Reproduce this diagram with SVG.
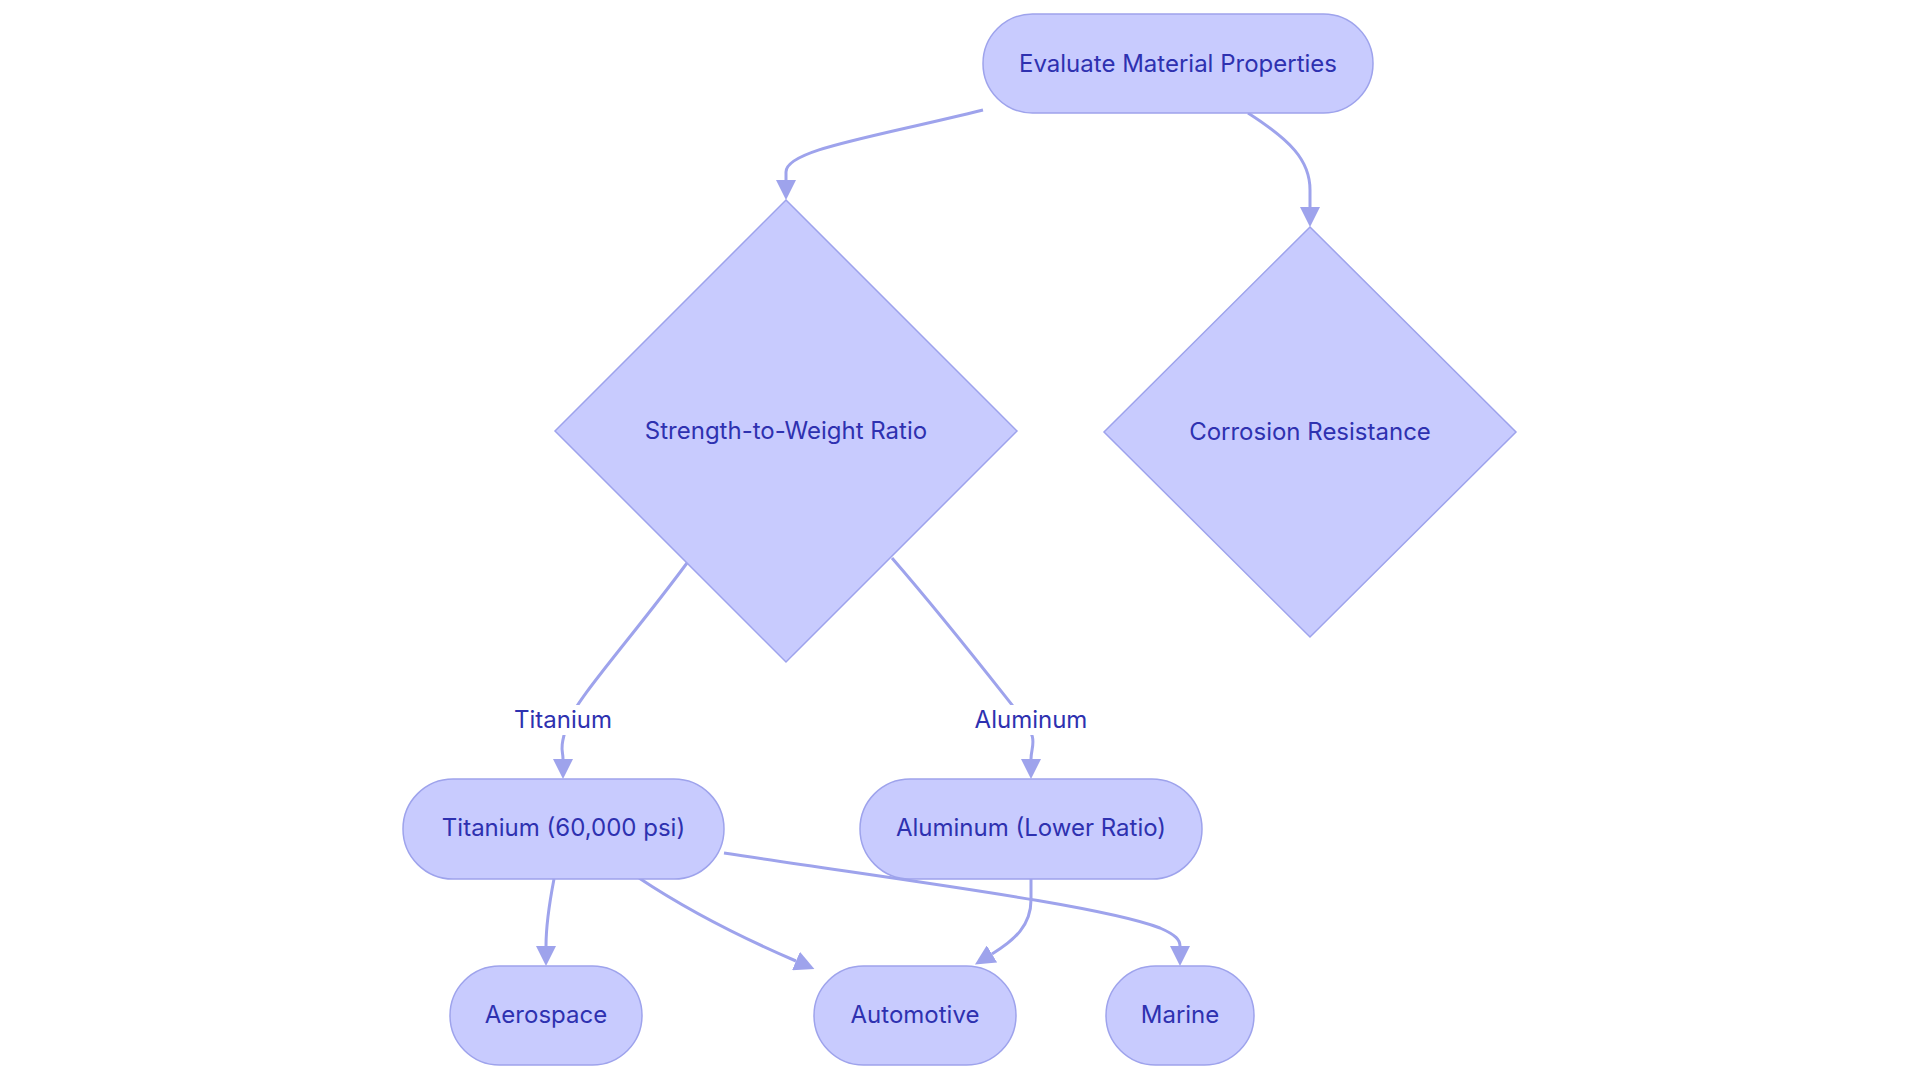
<svg xmlns="http://www.w3.org/2000/svg" width="1920" height="1083" viewBox="0 0 1920 1083">
<style>
.node{fill:#C8CBFE;stroke:#9EA3EC;stroke-width:1.5}
.t{font-family:Inter,"Liberation Sans",sans-serif;font-size:24px;fill:#2E31B0;text-anchor:middle}
.e{fill:none;stroke:#9EA3EC;stroke-width:3}
.lb{fill:#FFFFFF}
</style>
<defs>
<marker id="arr" viewBox="0 0 10 10" refX="0" refY="5" markerUnits="userSpaceOnUse" markerWidth="20" markerHeight="20" orient="auto">
<path d="M0,0 L10,5 L0,10 z" fill="#9EA3EC"/>
</marker>
</defs>
<rect width="1920" height="1083" fill="#FFFFFF"/>
<g id="connectors">
<path class="e" d="M983,110 C870,138 786,150 786,172 L786,180" marker-end="url(#arr)"/>
<path class="e" d="M1248,113 C1290,140 1310,160 1310,190 L1310,207" marker-end="url(#arr)"/>
<path class="e" d="M687,563 C630,640 575,700 567,725 S563,750 563,759" marker-end="url(#arr)"/>
<path class="e" d="M892,558 C950,625 1000,690 1020,715 S1031,745 1031,759" marker-end="url(#arr)"/>
<path class="e" d="M554,879 C549,905 546,925 546,946" marker-end="url(#arr)"/>
<path class="e" d="M639,878 C690,912 740,937 796,961" marker-end="url(#arr)"/>
<path class="e" d="M724,853 C900,880 1100,905 1160,928 C1176,935 1180,940 1180,946" marker-end="url(#arr)"/>
<path class="e" d="M1031,879 L1031,900 C1031,925 1015,940 992,954" marker-end="url(#arr)"/>
<rect class="lb" x="512" y="705" width="102" height="30"/>
<text class="t" x="563" y="720" dy="0.35em">Titanium</text>
<rect class="lb" x="973" y="705" width="116" height="30"/>
<text class="t" x="1031" y="720" dy="0.35em">Aluminum</text>
</g>
<g id="evaluate">
<rect class="node" x="983" y="14" width="390" height="99" rx="49.5"/>
<text class="t" x="1178" y="63.5" dy="0.35em">Evaluate Material Properties</text>
</g>
<g id="strength">
<polygon class="node" points="786,200 1017,431 786,662 555,431"/>
<text class="t" x="786" y="431" dy="0.35em">Strength-to-Weight Ratio</text>
</g>
<g id="corrosion">
<polygon class="node" points="1310,227 1516,432 1310,637 1104,432"/>
<text class="t" x="1310" y="432" dy="0.35em">Corrosion Resistance</text>
</g>
<g id="titanium">
<rect class="node" x="403" y="779" width="321" height="100" rx="50"/>
<text class="t" x="563.5" y="828" dy="0.35em">Titanium (60,000 psi)</text>
</g>
<g id="aluminum">
<rect class="node" x="860" y="779" width="342" height="100" rx="50"/>
<text class="t" x="1031" y="828" dy="0.35em">Aluminum (Lower Ratio)</text>
</g>
<g id="aerospace">
<rect class="node" x="450" y="966" width="192" height="99" rx="49.5"/>
<text class="t" x="546" y="1015" dy="0.35em">Aerospace</text>
</g>
<g id="automotive">
<rect class="node" x="814" y="966" width="202" height="99" rx="49.5"/>
<text class="t" x="915" y="1015" dy="0.35em">Automotive</text>
</g>
<g id="marine">
<rect class="node" x="1106" y="966" width="148" height="99" rx="49.5"/>
<text class="t" x="1180" y="1015" dy="0.35em">Marine</text>
</g>
</svg>
